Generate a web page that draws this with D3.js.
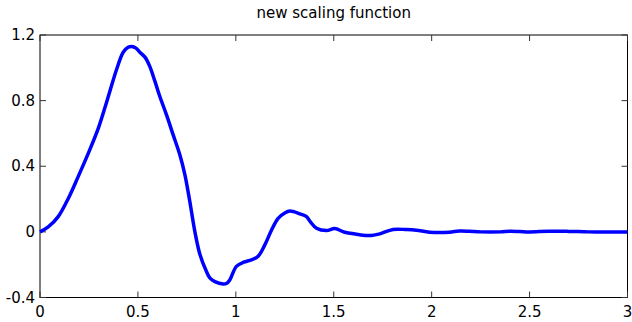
<!DOCTYPE html>
<html>
<head>
<meta charset="utf-8">
<script src="https://cdn.jsdelivr.net/npm/d3@7"></script>
<style>
  body { margin: 0; background: #fff; }
  text { font-family: "DejaVu Sans", Verdana, sans-serif; fill: #000; }
</style>
</head>
<body>
<div id="chart"></div>
<script>
var xs = [0, 0.042, 0.093, 0.145, 0.195, 0.247, 0.298, 0.34, 0.391, 0.425, 0.45, 0.468, 0.49, 0.51,
  0.536, 0.56, 0.587, 0.612, 0.646, 0.68, 0.714, 0.74, 0.765, 0.791, 0.816, 0.85, 0.867, 0.893,
  0.935, 0.952, 0.969, 1.003, 1.04, 1.08, 1.114, 1.148, 1.182, 1.216, 1.25, 1.276, 1.327, 1.361,
  1.378, 1.412, 1.463, 1.505, 1.556, 1.616, 1.667, 1.692, 1.735, 1.803, 1.871, 1.922, 1.99, 2.09,
  2.14, 2.19, 2.25, 2.35, 2.4, 2.45, 2.5, 2.6, 2.7, 2.8, 2.9, 3.0];
var ys = [0, 0.03, 0.093, 0.205, 0.337, 0.48, 0.632, 0.79, 0.99, 1.095, 1.125, 1.13, 1.12, 1.095,
  1.065, 1.01, 0.917, 0.825, 0.713, 0.591, 0.47, 0.348, 0.185, 0.0, -0.135, -0.242, -0.28, -0.303,
  -0.318, -0.315, -0.293, -0.21, -0.185, -0.17, -0.148, -0.079, 0.01, 0.082, 0.115, 0.127, 0.11, 0.093,
  0.065, 0.022, 0.008, 0.02, -0.002, -0.014, -0.022, -0.022, -0.012, 0.015, 0.014, 0.01, -0.002, -0.002,
  0.005, 0.004, 0.0, 0.0, 0.004, 0.002, 0.0, 0.004, 0.003, 0.0, 0.0, 0.0];
var xTicks = [0, 0.5, 1, 1.5, 2, 2.5, 3];
var yTicks = [-0.4, 0, 0.4, 0.8, 1.2];
var title = "new scaling function";

var width = 632, height = 322;
var padL = 40, padR = 627.5, padT = 35, padB = 297.5;

var svg = d3.select("#chart").append("svg")
  .attr("width", width)
  .attr("height", height);

var x = d3.scaleLinear().domain([0, 3]).range([padL, padR]);
var y = d3.scaleLinear().domain([-0.4, 1.2]).range([padB, padT]);

// box
svg.append("rect")
  .attr("x", padL).attr("y", padT)
  .attr("width", padR - padL).attr("height", padB - padT)
  .attr("fill", "none").attr("stroke", "#000").attr("stroke-width", 1);

// inward ticks, all four sides
var tk = 6;
xTicks.forEach(function(t) {
  svg.append("line").attr("x1", x(t)).attr("x2", x(t)).attr("y1", padB).attr("y2", padB - tk).attr("stroke", "#333");
  svg.append("line").attr("x1", x(t)).attr("x2", x(t)).attr("y1", padT).attr("y2", padT + tk).attr("stroke", "#333");
});
yTicks.forEach(function(t) {
  svg.append("line").attr("x1", padL).attr("x2", padL + tk).attr("y1", y(t)).attr("y2", y(t)).attr("stroke", "#333");
  svg.append("line").attr("x1", padR).attr("x2", padR - tk).attr("y1", y(t)).attr("y2", y(t)).attr("stroke", "#333");
});

svg.selectAll(".xl").data(xTicks).enter().append("text")
  .attr("x", function(d) { return x(d); })
  .attr("y", padB + 19)
  .attr("text-anchor", "middle")
  .attr("font-size", "15px")
  .text(function(d) { return d; });

svg.selectAll(".yl").data(yTicks).enter().append("text")
  .attr("x", padL - 5)
  .attr("y", function(d) { return y(d) + 5; })
  .attr("text-anchor", "end")
  .attr("font-size", "15px")
  .text(function(d) { return d; });

svg.append("text")
  .attr("x", (padL + padR) / 2)
  .attr("y", 18)
  .attr("text-anchor", "middle")
  .attr("font-size", "15px")
  .text(title);

var line = d3.line()
  .x(function(d, i) { return x(xs[i]); })
  .y(function(d, i) { return y(ys[i]); })
  .curve(d3.curveCatmullRom);

svg.append("path")
  .datum(xs)
  .attr("d", line)
  .attr("fill", "none")
  .attr("stroke", "#0000ff")
  .attr("stroke-width", 3.5)
  .attr("stroke-linejoin", "round");
</script>
</body>
</html>
